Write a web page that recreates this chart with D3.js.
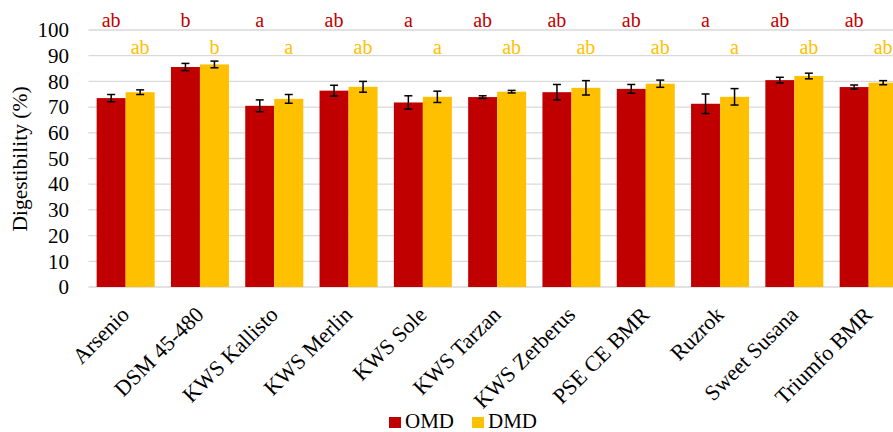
<!DOCTYPE html>
<html><head><meta charset="utf-8">
<script src="https://cdn.jsdelivr.net/npm/d3@7"></script>
<style>body{margin:0;background:#fff}svg{display:block}</style>
</head><body><svg id="c" width="893" height="432"></svg>
<script>
const categories = ["Arsenio","DSM 45-480","KWS Kallisto","KWS Merlin","KWS Sole","KWS Tarzan","KWS Zerberus","PSE CE BMR","Ruzrok","Sweet Susana","Triumfo BMR"];
const seriesNames = ["OMD","DMD"];
const omd = [73.5,85.6,70.5,76.4,71.8,73.9,75.8,77.1,71.3,80.5,77.8];
const omdErr = [1.4,1.4,2.3,2.1,2.6,0.5,3.0,1.7,3.8,1.1,0.8];
const dmd = [75.8,86.6,73.2,77.9,74.0,76.0,77.5,79.1,74.0,82.1,79.5];
const dmdErr = [0.9,1.3,1.7,2.1,2.2,0.5,2.8,1.4,3.2,1.1,0.8];
const omdLetters = ["ab","b","a","ab","a","ab","ab","ab","a","ab","ab"];
const dmdLetters = ["ab","b","a","ab","a","ab","ab","ab","a","ab","ab"];
const yTicks = [0,10,20,30,40,50,60,70,80,90,100];
const colors = ["#C00000","#FFC000"];

const svg = d3.select("#c");
const font = "'Liberation Serif','Times New Roman',serif";
const mLeft = 88.5, mRight = 905.8, mTop = 30, mBottom = 287;
const x = d3.scaleBand().domain(categories).range([mLeft,mRight]).paddingInner(16.3/74.3).paddingOuter(16.3/74.3/2);
const xs = d3.scaleBand().domain(seriesNames).range([0,x.bandwidth()]);
const y = d3.scaleLinear().domain([0,100]).range([mBottom,mTop]);

// gridlines
svg.append("g").selectAll("line").data(yTicks).join("line")
  .attr("x1",mLeft).attr("x2",893).attr("y1",d=>y(d)).attr("y2",d=>y(d))
  .attr("stroke","#d9d9d9").attr("stroke-width",1.3);

// y axis labels
const yAxis = d3.axisLeft(y).tickValues(yTicks).tickSize(0).tickPadding(0);
const ga = svg.append("g").attr("transform",`translate(69,0)`).call(yAxis);
ga.select(".domain").remove();
ga.selectAll("text").attr("font-family",font).attr("font-size",21).attr("fill","#000");

// y title
svg.append("text").attr("transform",`translate(27,159) rotate(-90)`).attr("text-anchor","middle")
  .attr("font-family",font).attr("font-size",21.5).text("Digestibility (%)");

const data = categories.map((c,i)=>({c, vals:[{s:"OMD",v:omd[i],e:omdErr[i],l:omdLetters[i]},{s:"DMD",v:dmd[i],e:dmdErr[i],l:dmdLetters[i]}]}));

const g = svg.append("g").selectAll("g").data(data).join("g").attr("transform",d=>`translate(${x(d.c)},0)`);
g.selectAll("rect").data(d=>d.vals).join("rect")
  .attr("x",d=>xs(d.s)).attr("width",xs.bandwidth())
  .attr("y",d=>y(d.v)).attr("height",d=>y(0)-y(d.v))
  .attr("fill",(d,i)=>colors[i]);
// error bars
const eb = g.selectAll("g.eb").data(d=>d.vals).join("g").attr("class","eb")
  .attr("stroke","#000").attr("stroke-width",1.5);
eb.append("line").attr("x1",d=>xs(d.s)+xs.bandwidth()/2).attr("x2",d=>xs(d.s)+xs.bandwidth()/2)
  .attr("y1",d=>y(d.v+d.e)).attr("y2",d=>y(d.v-d.e));
eb.append("line").attr("x1",d=>xs(d.s)+xs.bandwidth()/2-4).attr("x2",d=>xs(d.s)+xs.bandwidth()/2+4)
  .attr("y1",d=>y(d.v+d.e)).attr("y2",d=>y(d.v+d.e));
eb.append("line").attr("x1",d=>xs(d.s)+xs.bandwidth()/2-4).attr("x2",d=>xs(d.s)+xs.bandwidth()/2+4)
  .attr("y1",d=>y(d.v-d.e)).attr("y2",d=>y(d.v-d.e));
// letters
g.selectAll("text.lt").data(d=>d.vals).join("text").attr("class","lt")
  .attr("x",d=>xs(d.s)+xs.bandwidth()/2)
  .attr("y",(d,i)=>i===0?27.3:54.3)
  .attr("text-anchor","middle").attr("font-family",font).attr("font-size",20)
  .attr("fill",(d,i)=>i===0?"#C00000":"#FFC000").text(d=>d.l);

// x labels
svg.append("g").selectAll("text").data(categories).join("text")
  .attr("transform",d=>`translate(${x(d)+x.bandwidth()/2+5},316) rotate(-45)`)
  .attr("text-anchor","end")
  .attr("font-family",font).attr("font-size",22).text(d=>d);

// legend
const lg = svg.append("g").selectAll("g").data(seriesNames).join("g")
  .attr("transform",(d,i)=>`translate(${389+i*83},417)`);
lg.append("rect").attr("width",12).attr("height",11).attr("fill",(d,i)=>colors[i]);
lg.append("text").attr("x",16).attr("y",11).attr("font-family",font).attr("font-size",21).text(d=>d);
</script></body></html>
